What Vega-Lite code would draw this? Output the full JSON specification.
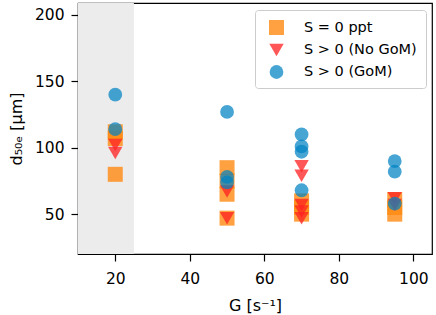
{
  "$schema": "https://vega.github.io/schema/vega-lite/v6.json",
  "width": 354,
  "height": 251,
  "autosize": {"type": "none"},
  "padding": {"left": 78, "top": 3, "right": 4, "bottom": 61},
  "background": "white",
  "config": {
    "font": "DejaVu Sans",
    "view": {"stroke": "black", "strokeWidth": 1.2},
    "axis": {
      "grid": false,
      "domain": false,
      "labelFont": "DejaVu Sans",
      "labelFontSize": 15.5,
      "labelColor": "black",
      "tickColor": "black",
      "tickSize": 7,
      "tickWidth": 1.2,
      "titleFont": "DejaVu Sans",
      "titleFontSize": 16,
      "titleFontWeight": "normal",
      "titleColor": "black"
    }
  },
  "datasets": {
    "shade": [{"x1": 10, "x2": 25}],
    "pts": [
      {"G": 20, "d": 112, "S": "S = 0 ppt"},
      {"G": 20, "d": 107, "S": "S = 0 ppt"},
      {"G": 20, "d": 80, "S": "S = 0 ppt"},
      {"G": 50, "d": 85, "S": "S = 0 ppt"},
      {"G": 50, "d": 75, "S": "S = 0 ppt"},
      {"G": 50, "d": 65, "S": "S = 0 ppt"},
      {"G": 50, "d": 47, "S": "S = 0 ppt"},
      {"G": 70, "d": 60, "S": "S = 0 ppt"},
      {"G": 70, "d": 55, "S": "S = 0 ppt"},
      {"G": 70, "d": 50, "S": "S = 0 ppt"},
      {"G": 95, "d": 61, "S": "S = 0 ppt"},
      {"G": 95, "d": 55, "S": "S = 0 ppt"},
      {"G": 95, "d": 50, "S": "S = 0 ppt"},
      {"G": 20, "d": 102, "S": "S > 0 (No GoM)"},
      {"G": 20, "d": 96, "S": "S > 0 (No GoM)"},
      {"G": 50, "d": 67, "S": "S > 0 (No GoM)"},
      {"G": 50, "d": 47, "S": "S > 0 (No GoM)"},
      {"G": 70, "d": 86, "S": "S > 0 (No GoM)"},
      {"G": 70, "d": 79, "S": "S > 0 (No GoM)"},
      {"G": 70, "d": 57, "S": "S > 0 (No GoM)"},
      {"G": 70, "d": 52, "S": "S > 0 (No GoM)"},
      {"G": 70, "d": 47, "S": "S > 0 (No GoM)"},
      {"G": 95, "d": 62, "S": "S > 0 (No GoM)"},
      {"G": 95, "d": 57, "S": "S > 0 (No GoM)"},
      {"G": 20, "d": 140, "S": "S > 0 (GoM)"},
      {"G": 20, "d": 114, "S": "S > 0 (GoM)"},
      {"G": 50, "d": 127, "S": "S > 0 (GoM)"},
      {"G": 50, "d": 78, "S": "S > 0 (GoM)"},
      {"G": 50, "d": 74, "S": "S > 0 (GoM)"},
      {"G": 70, "d": 110, "S": "S > 0 (GoM)"},
      {"G": 70, "d": 101, "S": "S > 0 (GoM)"},
      {"G": 70, "d": 97, "S": "S > 0 (GoM)"},
      {"G": 70, "d": 68, "S": "S > 0 (GoM)"},
      {"G": 95, "d": 90, "S": "S > 0 (GoM)"},
      {"G": 95, "d": 82, "S": "S > 0 (GoM)"},
      {"G": 95, "d": 58, "S": "S > 0 (GoM)"}
    ]
  },
  "layer": [
    {
      "data": {"name": "shade"},
      "mark": {"type": "rect", "color": "#ececec"},
      "encoding": {
        "x": {"field": "x1", "type": "quantitative", "scale": {"domain": [10, 105]}},
        "x2": {"field": "x2"}
      }
    },
    {
      "data": {"name": "pts"},
      "mark": {"type": "point", "filled": true, "strokeWidth": 0},
      "encoding": {
        "x": {
          "field": "G", "type": "quantitative",
          "scale": {"domain": [10, 105], "nice": false, "zero": false},
          "axis": {"values": [20, 40, 60, 80, 100], "title": "G [s⁻¹]", "titlePadding": 11, "labelPadding": 10}
        },
        "y": {
          "field": "d", "type": "quantitative",
          "scale": {"domain": [20, 209], "nice": false, "zero": false},
          "axis": {"values": [50, 100, 150, 200], "title": "d₅₀ₑ [μm]", "titlePadding": 10, "labelPadding": 7}
        },
        "color": {
          "field": "S", "type": "nominal",
          "scale": {"domain": ["S = 0 ppt", "S > 0 (No GoM)", "S > 0 (GoM)"], "range": ["#ff8a10", "#ff2222", "#0082c4"]},
          "legend": {
            "title": null,
            "orient": "none",
            "legendX": 177,
            "legendY": 7,
            "padding": 9,
            "strokeColor": "#cccccc",
            "cornerRadius": 3,
            "fillColor": "white",
            "labelFont": "DejaVu Sans",
            "labelFontSize": 14.5,
            "labelColor": "black",
            "symbolSize": 200,
            "rowPadding": 7,
            "labelOffset": 19,
            "symbolOffset": 4
          }
        },
        "opacity": {
          "field": "S", "type": "nominal",
          "scale": {"domain": ["S = 0 ppt", "S > 0 (No GoM)", "S > 0 (GoM)"], "range": [0.8, 0.72, 0.95]}
        },
        "shape": {
          "field": "S", "type": "nominal",
          "scale": {"domain": ["S = 0 ppt", "S > 0 (No GoM)", "S > 0 (GoM)"], "range": ["square", "triangle-down", "circle"]}
        },
        "size": {
          "field": "S", "type": "nominal", "legend": null,
          "scale": {"domain": ["S = 0 ppt", "S > 0 (No GoM)", "S > 0 (GoM)"], "range": [225, 190, 170]}
        }
      }
    }
  ]
}
